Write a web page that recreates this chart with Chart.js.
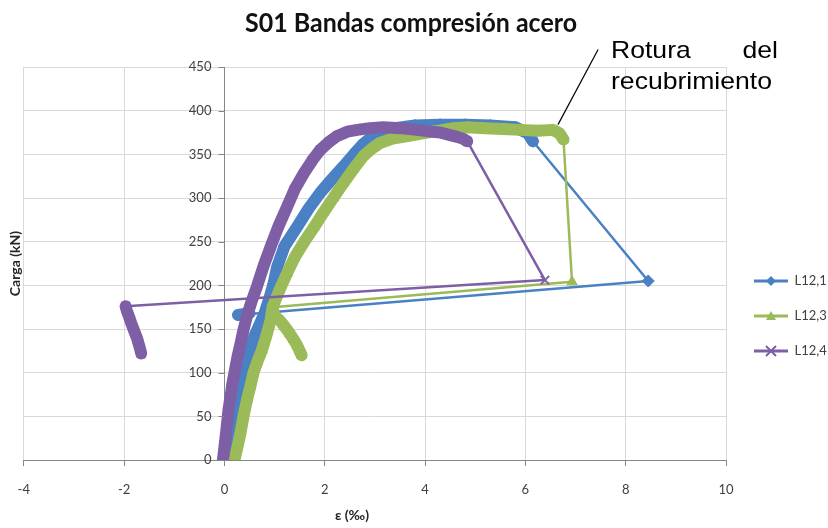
<!DOCTYPE html>
<html><head><meta charset="utf-8">
<script src="https://cdn.jsdelivr.net/npm/chart.js@4.4.1/dist/chart.umd.min.js"></script>
<style>html,body{margin:0;padding:0;background:#fff;}canvas{display:block;}</style>
</head><body>
<canvas id="c" width="828" height="528"></canvas>
<script>
// ---- text ----
const chartTitle = 'S01 Bandas compresión acero';
const xAxisTitle = 'ε (‰)';
const yAxisTitle = 'Carga (kN)';
const noteWords1 = ['Rotura', 'del'];
const noteWord2 = 'recubrimiento';
const seriesNames = ['L12,1', 'L12,3', 'L12,4'];

// ---- axes ----
const xTicks = [-4, -2, 0, 2, 4, 6, 8, 10];
const yTicks = [0, 50, 100, 150, 200, 250, 300, 350, 400, 450];

// ---- series L12,1 ----
const l121X = [0.05,0.1,0.17,0.26,0.37,0.48,0.6,0.7,0.8,0.9,0.98,1.05,1.2,1.45,1.68,1.91,2.15,2.37,2.58,2.77,3.05,3.4,3.8,4.3,4.8,5.3,5.8,6.05,6.15,8.45,0.27,0.5];
const l121Y = [0,25,50,75,100,122,142,155,168,186,202,221,245,267,288,306,322,336,350,362,375,380,383,384,384,383,381,374,365,205,166,168];

// ---- series L12,3 ----
const l123X = [0.2,0.26,0.32,0.38,0.45,0.52,0.58,0.66,0.75,0.84,0.92,0.96,1.1,1.25,1.4,1.58,1.78,1.97,2.17,2.37,2.57,2.77,2.95,3.1,3.35,3.65,4.16,4.57,4.84,5.2,5.55,5.9,6.25,6.55,6.68,6.76,6.93,0.96,1.0,1.1,1.2,1.3,1.38,1.45,1.5,1.54];
const l123Y = [0,15,31,50,69,85,100,113,126,143,160,175,195,214,232,249,266,283,300,317,333,348,357,363,368,371,376,380,381,380,379,378,377,378,374,367,204,175,165,160,153,145,138,131,125,120];

// ---- series L12,4 ----
const l124X = [-0.03,0.0,0.04,0.08,0.12,0.16,0.21,0.26,0.32,0.38,0.45,0.55,0.65,0.78,0.92,1.08,1.25,1.4,1.58,1.75,1.91,2.08,2.25,2.45,2.65,2.9,3.17,3.5,3.84,4.1,4.3,4.5,4.64,4.75,4.84,6.39,-1.97,-1.94,-1.9,-1.86,-1.82,-1.78,-1.74,-1.71,-1.68,-1.66];
const l124Y = [0,15,35,57,72,88,103,118,133,149,165,183,199,222,244,268,290,310,328,343,355,364,371,376,378,380,381,380,378,376,375,372,370,368,365,206,176,170,164,157,151,145,139,133,127,122];

const colors = ['#4A80C4', '#9BBB59', '#7E5FA6'];
const markers = ['rectRot', 'triangle', 'crossRot'];

function pts(xs, ys) { return xs.map((x, i) => ({x: x, y: ys[i]})); }

function makeIcon(color, style) {
  const c = document.createElement('canvas');
  c.width = 40; c.height = 14;
  const g = c.getContext('2d');
  g.strokeStyle = color; g.fillStyle = color; g.lineWidth = 3;
  g.beginPath(); g.moveTo(6, 7); g.lineTo(40, 7); g.stroke();
  const cx = 23, cy = 7, r = 5;
  g.beginPath();
  if (style === 'rectRot') {
    g.moveTo(cx, cy - r); g.lineTo(cx + r, cy); g.lineTo(cx, cy + r); g.lineTo(cx - r, cy); g.closePath(); g.fill();
  } else if (style === 'triangle') {
    g.moveTo(cx, cy - r); g.lineTo(cx + r, cy + r * 0.8); g.lineTo(cx - r, cy + r * 0.8); g.closePath(); g.fill();
  } else {
    g.lineWidth = 2;
    g.moveTo(cx - r, cy - r); g.lineTo(cx + r, cy + r); g.moveTo(cx + r, cy - r); g.lineTo(cx - r, cy + r); g.stroke();
  }
  return c;
}
const icons = colors.map((c, i) => makeIcon(c, markers[i]));

function ds(name, xs, ys, i, order) {
  return {
    label: name, data: pts(xs, ys), showLine: true, order: order,
    borderColor: colors[i], backgroundColor: colors[i],
    borderWidth: 3, borderJoinStyle: 'round', borderCapStyle: 'round', tension: 0,
    pointStyle: markers[i], pointRadius: 6, pointBorderWidth: markers[i] === 'crossRot' ? 2 : 1,
    pointBackgroundColor: colors[i], pointBorderColor: colors[i],
    segment: {
      borderWidth: ctx => Math.hypot(ctx.p1.x - ctx.p0.x, ctx.p1.y - ctx.p0.y) > 60 ? 2.5 : 12
    }
  };
}

const decor = {
  id: 'decor',
  beforeDraw(chart) {
    // move the y tick labels (axis crossing at x = 0) left of the tick marks
    const items = chart.scales.y.getLabelItems();
    items.forEach(it => { it.options.translation[0] -= 13; });
  },
  afterDraw(chart) {
    const ctx = chart.ctx;
    const xs = chart.scales.x, ys = chart.scales.y;
    ctx.save();
    // y tick marks left of the crossing axis
    ctx.strokeStyle = '#868686'; ctx.lineWidth = 1;
    const x0 = Math.round(xs.getPixelForValue(0)) + 0.5;
    ys.ticks.forEach(t => {
      const py = Math.round(ys.getPixelForValue(t.value)) + 0.5;
      ctx.beginPath(); ctx.moveTo(x0 - 6, py); ctx.lineTo(x0, py); ctx.stroke();
    });
    // title
    ctx.font = 'bold 26px Lato, "Open Sans", sans-serif';
    ctx.fillStyle = '#111';
    ctx.textBaseline = 'alphabetic';
    let w = ctx.measureText(chartTitle).width;
    let sx = 332 / w;
    ctx.save(); ctx.translate(411, 32); ctx.scale(sx, 1);
    ctx.textAlign = 'center'; ctx.fillText(chartTitle, 0, 0); ctx.restore();
    // note
    ctx.font = '24px "Liberation Sans", Arial, sans-serif';
    ctx.fillStyle = '#000';
    w = ctx.measureText(noteWord2).width;
    sx = 161 / w;
    ctx.save(); ctx.translate(611, 58); ctx.scale(sx, 1); ctx.textAlign = 'left'; ctx.fillText(noteWords1[0], 0, 0); ctx.restore();
    ctx.save(); ctx.translate(778, 58); ctx.scale(sx, 1); ctx.textAlign = 'right'; ctx.fillText(noteWords1[1], 0, 0); ctx.restore();
    ctx.save(); ctx.translate(611, 89); ctx.scale(sx, 1); ctx.textAlign = 'left'; ctx.fillText(noteWord2, 0, 0); ctx.restore();
    // leader line
    ctx.strokeStyle = '#000'; ctx.lineWidth = 1.2;
    ctx.beginPath();
    ctx.moveTo(xs.getPixelForValue(7.45), ys.getPixelForValue(470));
    ctx.lineTo(xs.getPixelForValue(6.65), ys.getPixelForValue(384));
    ctx.stroke();
    // x axis title
    ctx.font = 'bold 14px Lato, "Open Sans", sans-serif';
    ctx.fillStyle = '#262626';
    ctx.textAlign = 'center'; ctx.textBaseline = 'middle';
    ctx.fillText(xAxisTitle, 352, 515);
    ctx.restore();
  }
};

const tickFont = {family: 'Lato, "Open Sans", sans-serif', size: 13};

new Chart(document.getElementById('c'), {
  type: 'scatter',
  data: {
    datasets: [
      ds(seriesNames[0], l121X, l121Y, 0, 2),
      ds(seriesNames[1], l123X, l123Y, 1, 1),
      ds(seriesNames[2], l124X, l124Y, 2, 0)
    ]
  },
  options: {
    responsive: false, animation: false, events: [],
    layout: {padding: {top: 67, left: 0, right: 0, bottom: 14.4}},
    scales: {
      x: {
        type: 'linear', position: 'bottom',
        min: xTicks[0], max: xTicks[xTicks.length - 1],
        ticks: {stepSize: xTicks[1] - xTicks[0], font: tickFont, color: '#404040', padding: 16},
        grid: {color: '#d9d9d9', tickColor: '#868686', tickLength: 6},
        border: {color: '#868686'}
      },
      y: {
        type: 'linear', axis: 'y', position: {x: 0},
        min: yTicks[0], max: yTicks[yTicks.length - 1],
        ticks: {stepSize: yTicks[1] - yTicks[0], font: tickFont, color: '#404040', padding: 7},
        grid: {color: '#d9d9d9', drawTicks: false},
        border: {color: '#868686'}
      },
      y2: {
        type: 'linear', axis: 'y', position: 'left',
        grid: {display: false, drawTicks: false},
        border: {display: false},
        ticks: {display: false},
        title: {display: true, text: yAxisTitle, color: '#262626',
                font: {family: 'Lato, "Open Sans", sans-serif', size: 14, weight: 'bold'},
                padding: {top: 7, bottom: 0}}
      }
    },
    plugins: {
      title: {display: false},
      tooltip: {enabled: false},
      legend: {
        position: 'right', maxWidth: 102,
        title: {display: true, text: '', padding: {top: 37, bottom: 0}, font: {size: 12}},
        labels: {
          usePointStyle: true, pointStyleWidth: 40, padding: 22,
          font: {family: 'Lato, "Open Sans", sans-serif', size: 13}, color: '#404040',
          sort: (a, b) => a.datasetIndex - b.datasetIndex,
          generateLabels: chart => Chart.defaults.plugins.legend.labels.generateLabels(chart)
            .map(l => Object.assign(l, {pointStyle: icons[l.datasetIndex]}))
        }
      }
    }
  },
  plugins: [decor]
});
</script>
</body></html>
